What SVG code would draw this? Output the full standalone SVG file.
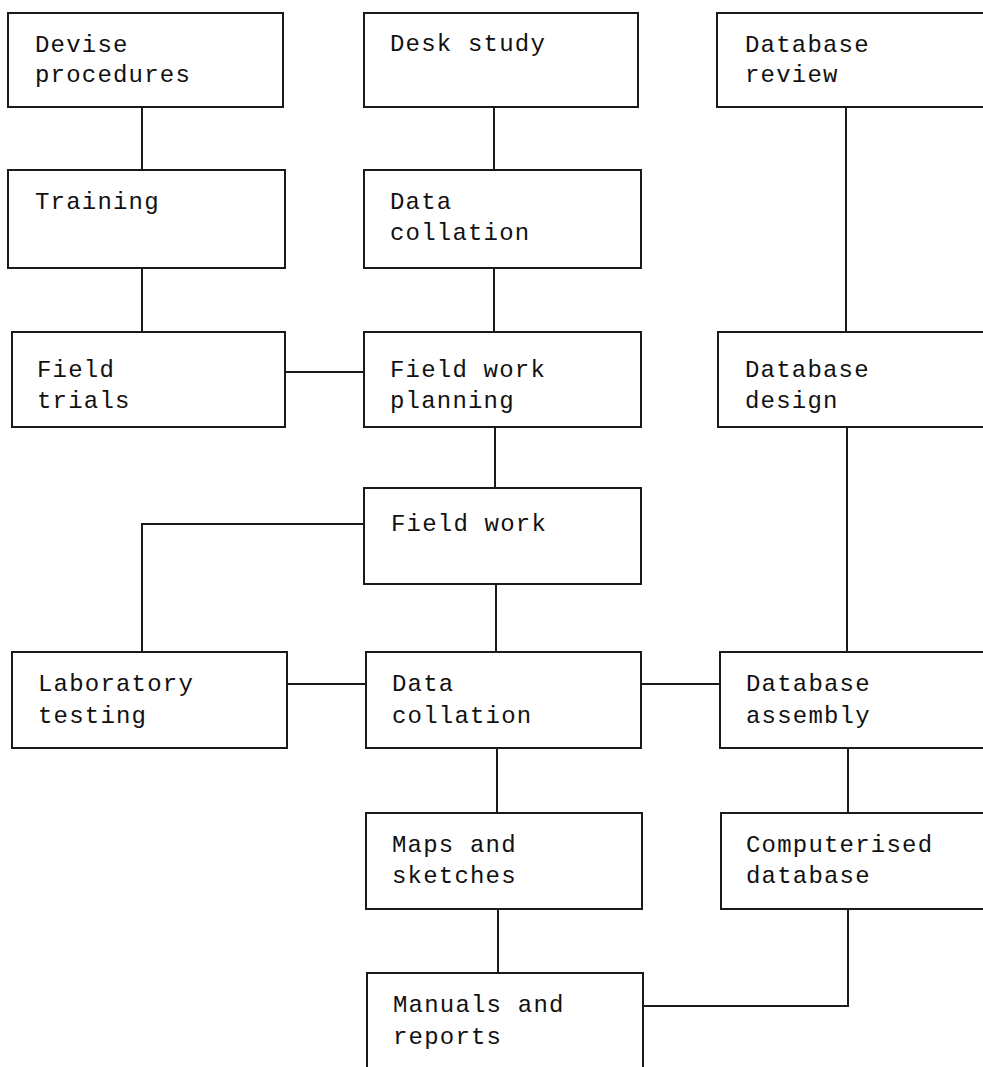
<svg xmlns="http://www.w3.org/2000/svg" width="983" height="1067" viewBox="0 0 983 1067">
<style>
.box{fill:#fff;stroke:#1a1a1a;stroke-width:2}
.ln{fill:none;stroke:#1a1a1a;stroke-width:2}
.t{font-family:"Liberation Mono","DejaVu Sans Mono",monospace;font-size:24px;letter-spacing:1.2px;fill:#111}
</style>
<rect width="983" height="1067" fill="#fff"/>
<g id="connectors">
<path class="ln" d="M142 107V170M142 268V332"/>
<path class="ln" d="M285 372H364"/>
<path class="ln" d="M494 107V170M494 268V332M495 427V488M496 584V652M497 748V813M498 909V973"/>
<path class="ln" d="M846 107V332M847 427V652M848 748V813"/>
<path class="ln" d="M142 652V524H364"/>
<path class="ln" d="M287 684H366"/>
<path class="ln" d="M641 684H720"/>
<path class="ln" d="M643 1006H848V909"/>
</g>
<g id="devise"><rect class="box" x="8" y="13" width="275" height="94"/><text class="t" x="35" y="52">Devise</text><text class="t" x="35" y="82">procedures</text></g>
<g id="desk"><rect class="box" x="364" y="13" width="274" height="94"/><text class="t" x="390" y="51">Desk study</text></g>
<g id="dbreview"><rect class="box" x="717" y="13" width="280" height="94"/><text class="t" x="745" y="52">Database</text><text class="t" x="745" y="82">review</text></g>
<g id="training"><rect class="box" x="8" y="170" width="277" height="98"/><text class="t" x="35" y="209">Training</text></g>
<g id="collation1"><rect class="box" x="364" y="170" width="277" height="98"/><text class="t" x="390" y="209">Data</text><text class="t" x="390" y="240">collation</text></g>
<g id="trials"><rect class="box" x="12" y="332" width="273" height="95"/><text class="t" x="37" y="377">Field</text><text class="t" x="37" y="408">trials</text></g>
<g id="planning"><rect class="box" x="364" y="332" width="277" height="95"/><text class="t" x="390" y="377">Field work</text><text class="t" x="390" y="408">planning</text></g>
<g id="dbdesign"><rect class="box" x="718" y="332" width="280" height="95"/><text class="t" x="745" y="377">Database</text><text class="t" x="745" y="408">design</text></g>
<g id="fieldwork"><rect class="box" x="364" y="488" width="277" height="96"/><text class="t" x="391" y="531">Field work</text></g>
<g id="lab"><rect class="box" x="12" y="652" width="275" height="96"/><text class="t" x="38" y="691">Laboratory</text><text class="t" x="38" y="723">testing</text></g>
<g id="collation2"><rect class="box" x="366" y="652" width="275" height="96"/><text class="t" x="392" y="691">Data</text><text class="t" x="392" y="723">collation</text></g>
<g id="dbassembly"><rect class="box" x="720" y="652" width="280" height="96"/><text class="t" x="746" y="691">Database</text><text class="t" x="746" y="723">assembly</text></g>
<g id="maps"><rect class="box" x="366" y="813" width="276" height="96"/><text class="t" x="392" y="852">Maps and</text><text class="t" x="392" y="883">sketches</text></g>
<g id="computerised"><rect class="box" x="721" y="813" width="280" height="96"/><text class="t" x="746" y="852">Computerised</text><text class="t" x="746" y="883">database</text></g>
<g id="manuals"><rect class="box" x="367" y="973" width="276" height="110"/><text class="t" x="393" y="1012">Manuals and</text><text class="t" x="393" y="1044">reports</text></g>
</svg>
